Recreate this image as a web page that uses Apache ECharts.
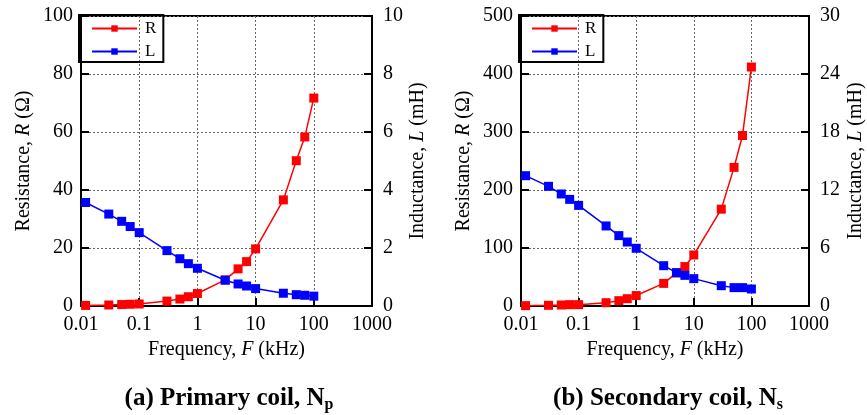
<!DOCTYPE html>
<html>
<head>
    <meta charset="utf-8">
    <title>Coil R / L vs frequency</title>
    <script src="https://cdn.jsdelivr.net/npm/echarts@6/dist/echarts.min.js"></script>
    <style>
        html, body { margin: 0; padding: 0; background: #fff; }
    </style>
</head>
<body>
    <div id="main" style="width: 867px;height:415px;"></div>

    <script type="text/javascript">

        // frequency points (kHz), same for both coils
        var freq = [0.012, 0.03, 0.05, 0.07, 0.1, 0.3, 0.5, 0.7, 1, 3, 5, 7, 10, 30, 50, 70, 100];

        // (a) primary coil
        var rPrimary = [0.2, 0.35, 0.5, 0.6, 0.7, 1.7, 2.4, 3.2, 4.3, 9.0, 12.8, 15.3, 19.7, 36.6, 50.1, 58.3, 71.7];
        var lPrimary = [3.57, 3.17, 2.92, 2.74, 2.53, 1.91, 1.63, 1.46, 1.30, 0.89, 0.76, 0.69, 0.60, 0.44, 0.39, 0.37, 0.34];

        // (b) secondary coil
        var rSecondary = [0.6, 1.2, 1.7, 2.3, 2.3, 5.7, 9.2, 12.6, 18, 39, 57, 68, 88, 167, 239, 294, 412];
        var lSecondary = [13.48, 12.38, 11.59, 11.03, 10.41, 8.28, 7.28, 6.62, 5.97, 4.17, 3.45, 3.17, 2.83, 2.10, 1.90, 1.90, 1.76];

        // axis ranges [min, max, interval]
        var xTicks = [0.01, 0.1, 1, 10, 100, 1000];
        var rRangeA = [0, 100, 20], lRangeA = [0, 10, 2];
        var rRangeB = [0, 500, 100], lRangeB = [0, 30, 6];

        var FONT = '"Liberation Serif", "Times New Roman", serif';

        function pairs(xs, ys) {
            var out = [];
            for (var i = 0; i < xs.length; i++) out.push([xs[i], ys[i]]);
            return out;
        }

        function xAxisFor(g) {
            return {
                type: 'log', logBase: 10, gridIndex: g,
                min: xTicks[0], max: xTicks[xTicks.length - 1],
                name: '{n|Frequency, }{i|F}{n| (kHz)}',
                nameLocation: 'middle', nameGap: 28,
                nameTextStyle: { rich: {
                    n: { fontFamily: FONT, fontSize: 20, color: '#000' },
                    i: { fontFamily: FONT, fontSize: 20, color: '#000', fontStyle: 'italic' }
                } },
                axisLine: { lineStyle: { color: '#000', width: 2 } },
                axisTick: { inside: true, length: 8, lineStyle: { color: '#000', width: 2 } },
                minorTick: { show: false },
                axisLabel: {
                    fontFamily: FONT, fontSize: 20, color: '#000', margin: 9,
                    formatter: function (v) { return String(Number(Number(v).toPrecision(6))); }
                },
                splitLine: { show: true, lineStyle: { color: '#666', type: [2, 2], width: 1 } }
            };
        }

        function yAxisFor(g, rng, pos, label, sym, unit, gap, showSplit, margin) {
            return {
                type: 'value', gridIndex: g, position: pos,
                min: rng[0], max: rng[1], interval: rng[2],
                name: '{n|' + label + ', }{i|' + sym + '}{n| (' + unit + ')}',
                nameLocation: 'middle', nameGap: gap, nameRotate: 90,
                nameTextStyle: { rich: {
                    n: { fontFamily: FONT, fontSize: 20, color: '#000' },
                    i: { fontFamily: FONT, fontSize: 20, color: '#000', fontStyle: 'italic' }
                } },
                axisLine: { show: true, lineStyle: { color: '#000', width: 2 } },
                axisTick: { show: true, inside: true, length: 8, lineStyle: { color: '#000', width: 2 } },
                axisLabel: { fontFamily: FONT, fontSize: 20, color: '#000', margin: margin },
                splitLine: { show: showSplit, lineStyle: { color: '#666', type: [2, 2], width: 1 } }
            };
        }

        function lineSeries(name, color, xi, yi, data) {
            return {
                name: name, type: 'line', xAxisIndex: xi, yAxisIndex: yi,
                data: data, symbol: 'rect', symbolSize: 9,
                color: color,
                lineStyle: { color: color, width: 1.5 },
                itemStyle: { color: color },
                animation: false
            };
        }

        function legendAt(left) {
            return {
                orient: 'vertical', left: left, top: 15,
                data: ['R', 'L'],
                itemWidth: 45, itemHeight: 8, itemGap: 6,
                padding: [5, 7, 2, 12],
                borderColor: '#000', borderWidth: 2, borderRadius: 0,
                textStyle: { fontFamily: FONT, fontSize: 17, color: '#000', padding: [0, 0, 0, 3] }
            };
        }

        function caption(x, letter, title, sub) {
            return {
                type: 'text', x: x, y: 399,
                style: {
                    text: '{b|(' + letter + ') ' + title + ', N}{s|' + sub + '}',
                    align: 'center', verticalAlign: 'middle',
                    rich: {
                        b: { fontFamily: FONT, fontSize: 25, fontWeight: 'bold', fill: '#000', color: '#000' },
                        s: { fontFamily: FONT, fontSize: 16, fontWeight: 'bold', fill: '#000', color: '#000',
                             verticalAlign: 'bottom', padding: [12, 0, 0, 0] }
                    }
                }
            };
        }

        var myChart = echarts.init(document.getElementById('main'));

        var option = {
            backgroundColor: '#fff',
            animation: false,
            grid: [
                { left: 81, top: 16, width: 291, height: 290, show: true, borderColor: '#000', borderWidth: 2 },
                { left: 521, top: 16, width: 293, height: 290, show: true, borderColor: '#000', borderWidth: 2 }
            ],
            xAxis: [xAxisFor(0), xAxisFor(1)],
            yAxis: [
                yAxisFor(0, rRangeA, 'left', 'Resistance', 'R', 'Ω', 47, true, 8),
                yAxisFor(0, lRangeA, 'right', 'Inductance', 'L', 'mH', 36, false, 11),
                yAxisFor(1, rRangeB, 'left', 'Resistance', 'R', 'Ω', 47, true, 8),
                yAxisFor(1, lRangeB, 'right', 'Inductance', 'L', 'mH', 37, false, 11)
            ],
            legend: [legendAt(79), legendAt(519)],
            series: [
                lineSeries('R', '#ff0000', 0, 0, pairs(freq, rPrimary)),
                lineSeries('L', '#0000ff', 0, 1, pairs(freq, lPrimary)),
                lineSeries('R', '#ff0000', 1, 2, pairs(freq, rSecondary)),
                lineSeries('L', '#0000ff', 1, 3, pairs(freq, lSecondary))
            ],
            graphic: [
                caption(229, 'a', 'Primary coil', 'p'),
                caption(668, 'b', 'Secondary coil', 's')
            ]
        };

        myChart.setOption(option);
    </script>
</body>
</html>
